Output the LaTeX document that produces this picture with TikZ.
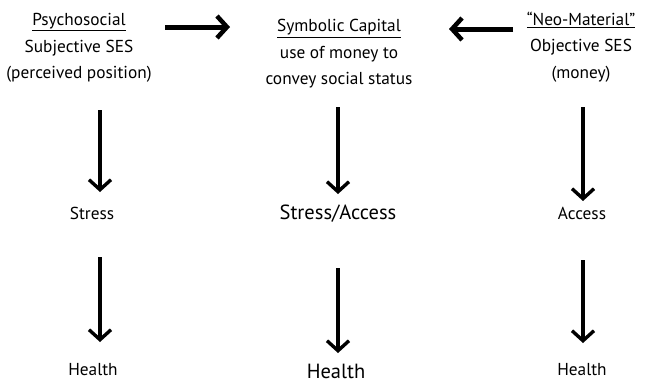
\documentclass[tikz,border=0pt]{standalone}
\usepackage{fontspec}
\setmainfont{PT Sans}
\usetikzlibrary{arrows.meta}
\tikzset{
  txt/.style={align=center, inner sep=0pt, font=\fontsize{17.3}{26.5}\selectfont},
  big/.style={align=center, inner sep=0pt, font=\fontsize{20.5}{26}\selectfont},
  varrow/.style={line width=3.4pt, -{Straight Barb[length=10pt,width=22pt,line width=3.4pt]}},
  harrow/.style={line width=5pt, -{Straight Barb[length=10pt,width=22pt,line width=4.5pt]}}
}
\begin{document}
\begin{tikzpicture}[x=1pt,y=-1pt]
\useasboundingbox (0,0) rectangle (652,384);
\node[txt] (psy) at (79,48) {\underline{Psychosocial}\\Subjective SES\\(perceived position)};
\node[txt] (sym) at (339,54) {\underline{Symbolic Capital}\\use of money to\\convey social status};
\node[txt] (neo) at (581,47) {\underline{“Neo-Material”}\\Objective SES\\(money)};
\coordinate (psyE) at (165,27);
\coordinate (symW) at (230,27);
\coordinate (neoW) at (513,29);
\coordinate (symE) at (449,29);
\draw[harrow] (psyE) -- (symW);
\draw[harrow] (neoW) -- (symE);

\node[txt] (stress) at (92,213) {Stress};
\node[big] (sa) at (338,214) {Stress/Access};
\node[txt] (access) at (582,213) {Access};

\node[txt] (h1) at (93,370) {Health};
\node[big] (h2) at (336,371) {Health};
\node[txt] (h3) at (582,370) {Health};

\coordinate (a1s) at (100,110); \coordinate (a1e) at (100,192);
\coordinate (a2s) at (338,107); \coordinate (a2e) at (338,194);
\coordinate (a3s) at (583,107); \coordinate (a3e) at (583,201);
\coordinate (b1s) at (100,257); \coordinate (b1e) at (100,342);
\coordinate (b2s) at (338,268); \coordinate (b2e) at (338,353);
\coordinate (b3s) at (583,260); \coordinate (b3e) at (583,343);
\draw[varrow] (a1s) -- (a1e);
\draw[varrow] (a2s) -- (a2e);
\draw[varrow] (a3s) -- (a3e);
\draw[varrow] (b1s) -- (b1e);
\draw[varrow] (b2s) -- (b2e);
\draw[varrow] (b3s) -- (b3e);
\end{tikzpicture}
\end{document}
